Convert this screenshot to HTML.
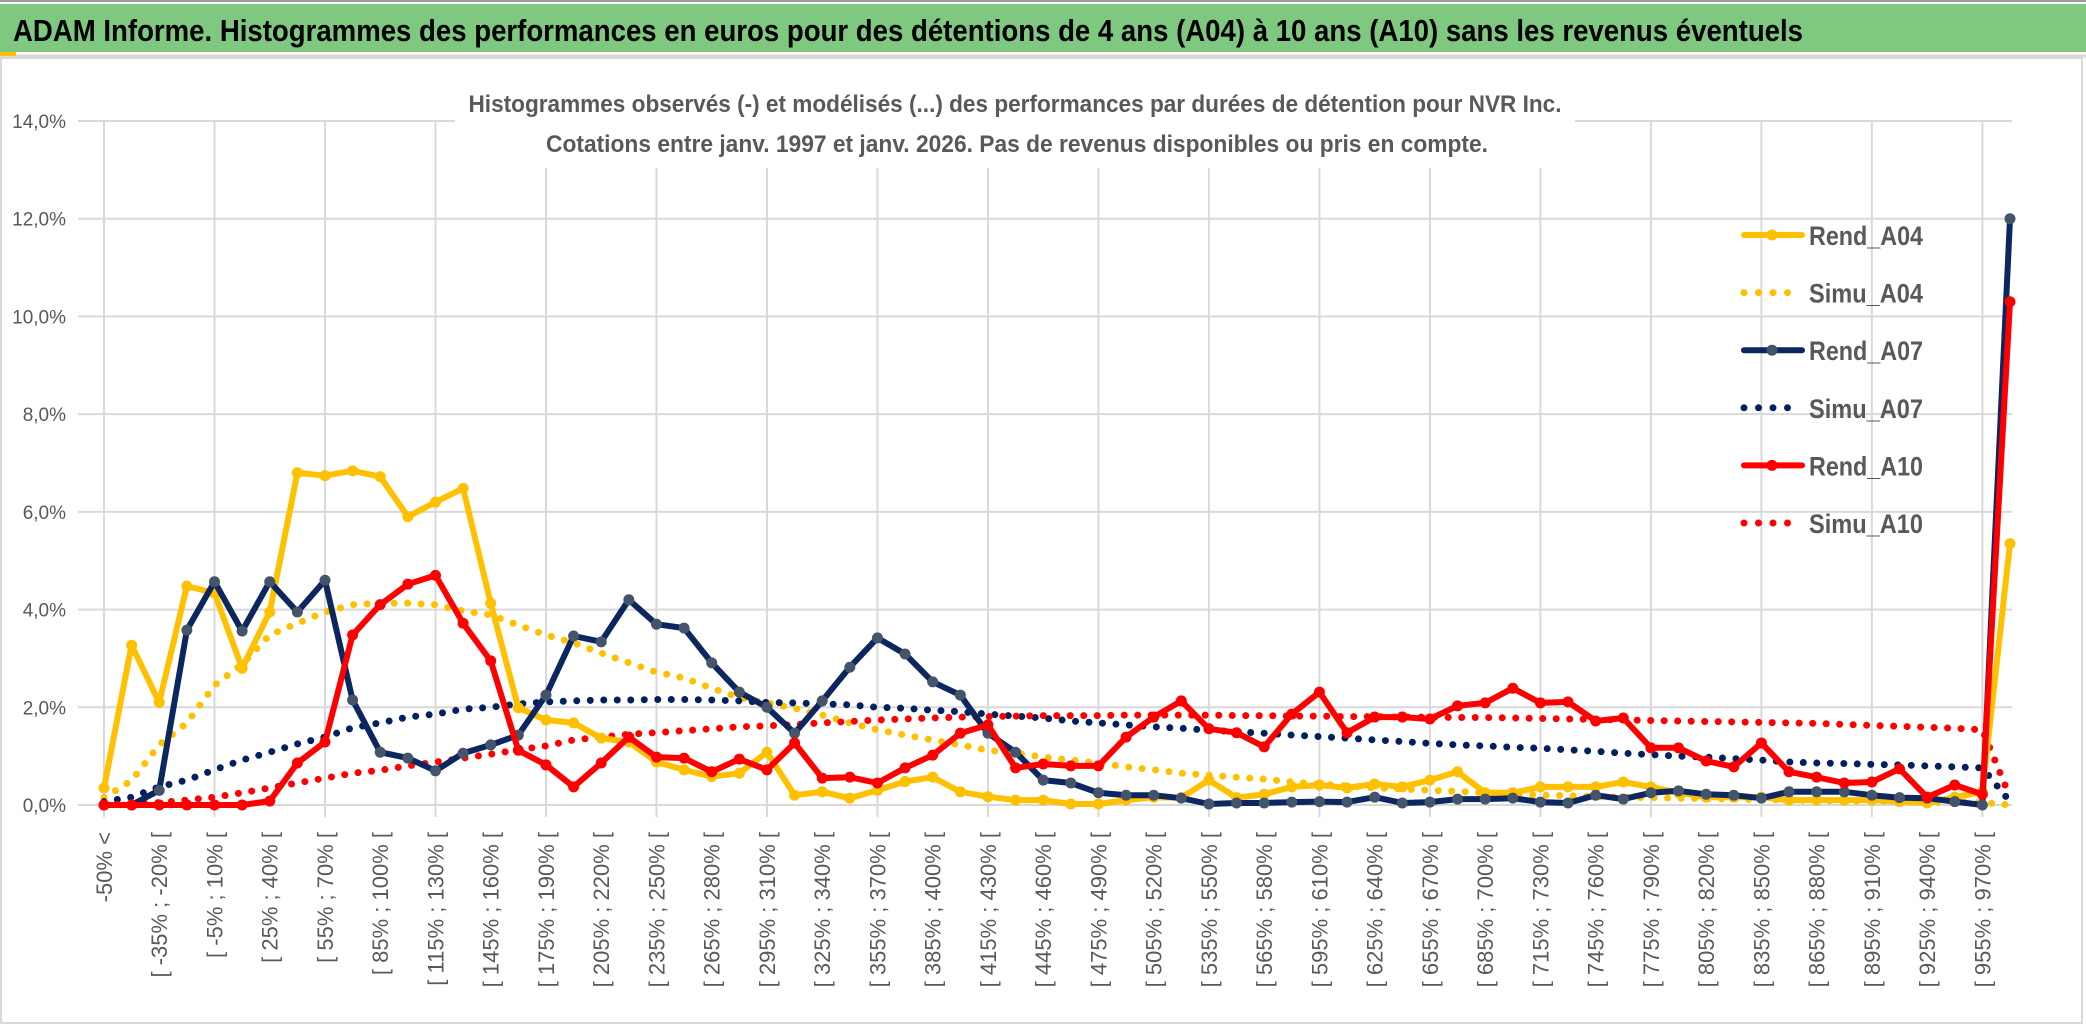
<!DOCTYPE html>
<html><head><meta charset="utf-8">
<style>
html,body{margin:0;padding:0;background:#fff;}
svg{display:block;font-family:"Liberation Sans",sans-serif;}
</style></head>
<body>
<svg id="chart" width="2086" height="1033" viewBox="0 0 2086 1033" xmlns="http://www.w3.org/2000/svg">
  <rect x="0" y="0" width="2086" height="1033" fill="#ffffff"/>
  <rect x="0" y="4" width="2086" height="48" fill="#7ec97f"/>
  <line x1="0" y1="1" x2="2086" y2="1" stroke="#9a9a9a" stroke-width="2"/>
  <line x1="0" y1="56" x2="2086" y2="56" stroke="#d9d9d9" stroke-width="3"/>
  <rect x="0" y="52" width="16" height="4" fill="#ffc000"/>
  <text x="13" y="41" font-size="31" font-weight="bold" fill="#000" textLength="1790" lengthAdjust="spacingAndGlyphs">ADAM Informe. Histogrammes des performances en euros pour des détentions de 4 ans (A04) à 10 ans (A10) sans les revenus éventuels</text>
  <rect x="1" y="58" width="2081" height="965" fill="none" stroke="#d9d9d9" stroke-width="2"/>
  <g id="grid"></g>
  <rect x="455" y="80" width="1120" height="88" fill="#ffffff"/>
  <text x="1015" y="112" font-size="24" font-weight="bold" fill="#595959" text-anchor="middle" textLength="1093" lengthAdjust="spacingAndGlyphs">Histogrammes observés (-) et modélisés (...) des performances par durées de détention pour NVR Inc.</text>
  <text x="1017" y="152" font-size="24" font-weight="bold" fill="#595959" text-anchor="middle" textLength="942" lengthAdjust="spacingAndGlyphs">Cotations entre janv. 1997 et janv. 2026. Pas de revenus disponibles ou pris en compte.</text>
  <g id="ylabels"></g>
  <g id="xlabels"></g>
  <g id="series"></g>
  <g id="legend"></g>
</svg>
<script>
const categories = ["-50% <","[ -50% ; -35% [","[ -35% ; -20% [","[ -20% ; -5% [","[ -5% ; 10% [","[ 10% ; 25% [","[ 25% ; 40% [","[ 40% ; 55% [","[ 55% ; 70% [","[ 70% ; 85% [",
"[ 85% ; 100% [","[ 100% ; 115% [","[ 115% ; 130% [","[ 130% ; 145% [","[ 145% ; 160% [","[ 160% ; 175% [","[ 175% ; 190% [","[ 190% ; 205% [","[ 205% ; 220% [","[ 220% ; 235% [",
"[ 235% ; 250% [","[ 250% ; 265% [","[ 265% ; 280% [","[ 280% ; 295% [","[ 295% ; 310% [","[ 310% ; 325% [","[ 325% ; 340% [","[ 340% ; 355% [","[ 355% ; 370% [","[ 370% ; 385% [",
"[ 385% ; 400% [","[ 400% ; 415% [","[ 415% ; 430% [","[ 430% ; 445% [","[ 445% ; 460% [","[ 460% ; 475% [","[ 475% ; 490% [","[ 490% ; 505% [","[ 505% ; 520% [","[ 520% ; 535% [",
"[ 535% ; 550% [","[ 550% ; 565% [","[ 565% ; 580% [","[ 580% ; 595% [","[ 595% ; 610% [","[ 610% ; 625% [","[ 625% ; 640% [","[ 640% ; 655% [","[ 655% ; 670% [","[ 670% ; 685% [",
"[ 685% ; 700% [","[ 700% ; 715% [","[ 715% ; 730% [","[ 730% ; 745% [","[ 745% ; 760% [","[ 760% ; 775% [","[ 775% ; 790% [","[ 790% ; 805% [","[ 805% ; 820% [","[ 820% ; 835% [",
"[ 835% ; 850% [","[ 850% ; 865% [","[ 865% ; 880% [","[ 880% ; 895% [","[ 895% ; 910% [","[ 910% ; 925% [","[ 925% ; 940% [","[ 940% ; 955% [","[ 955% ; 970% [","970% >="];
const yTicks = [0,2,4,6,8,10,12,14];
const yTickLabels = ["0,0%","2,0%","4,0%","6,0%","8,0%","10,0%","12,0%","14,0%"];
const rendA04 = [0.35,3.27,2.1,4.48,4.34,2.8,3.95,6.8,6.74,6.84,6.72,5.9,6.2,6.48,4.13,1.99,1.74,1.68,1.37,1.29,0.88,0.72,0.58,0.65,1.08,0.2,0.27,0.14,0.3,0.48,0.57,0.27,0.17,0.1,0.1,0.02,0.02,0.1,0.16,0.15,0.51,0.15,0.22,0.37,0.41,0.35,0.43,0.37,0.51,0.68,0.25,0.25,0.37,0.37,0.37,0.47,0.37,0.25,0.16,0.16,0.16,0.1,0.1,0.1,0.1,0.07,0.04,0.16,0.27,5.35];
const simuA04 = [0.15,0.5,1.23,1.68,2.45,2.88,3.48,3.72,3.95,4.1,4.13,4.13,4.1,3.97,3.89,3.68,3.48,3.32,3.11,2.91,2.72,2.6,2.39,2.2,2.09,1.98,1.84,1.68,1.54,1.43,1.33,1.23,1.12,1.06,0.98,0.92,0.86,0.78,0.72,0.65,0.61,0.57,0.53,0.47,0.43,0.39,0.35,0.33,0.3,0.28,0.25,0.22,0.2,0.19,0.17,0.16,0.15,0.14,0.13,0.12,0.11,0.1,0.09,0.08,0.08,0.07,0.06,0.06,0.05,0.0];
const rendA07 = [0,0,0.3,3.58,4.57,3.56,4.57,3.95,4.6,2.15,1.08,0.96,0.7,1.06,1.23,1.43,2.25,3.46,3.34,4.2,3.7,3.62,2.91,2.31,2.0,1.47,2.13,2.82,3.42,3.09,2.52,2.25,1.47,1.08,0.51,0.45,0.25,0.2,0.2,0.14,0.02,0.04,0.04,0.06,0.07,0.06,0.16,0.04,0.06,0.12,0.12,0.14,0.06,0.04,0.2,0.12,0.25,0.29,0.22,0.2,0.14,0.27,0.27,0.27,0.2,0.15,0.14,0.07,0.0,12.0];
const simuA07 = [0.07,0.16,0.37,0.51,0.72,0.92,1.08,1.25,1.39,1.58,1.68,1.8,1.86,1.96,2.0,2.07,2.11,2.13,2.15,2.15,2.16,2.16,2.15,2.13,2.1,2.09,2.07,2.05,2.0,1.98,1.94,1.91,1.86,1.82,1.78,1.72,1.68,1.64,1.6,1.57,1.53,1.5,1.47,1.43,1.4,1.37,1.33,1.3,1.26,1.23,1.21,1.18,1.16,1.13,1.1,1.06,1.03,1.0,0.98,0.95,0.92,0.88,0.86,0.85,0.83,0.82,0.8,0.78,0.76,0.07];
const rendA10 = [0,0,0,0,0,0,0.08,0.86,1.29,3.48,4.1,4.52,4.7,3.72,2.95,1.12,0.82,0.37,0.86,1.39,0.98,0.96,0.68,0.94,0.72,1.27,0.55,0.57,0.45,0.76,1.02,1.47,1.64,0.76,0.84,0.8,0.8,1.39,1.8,2.13,1.56,1.48,1.19,1.86,2.31,1.48,1.8,1.8,1.76,2.03,2.09,2.39,2.09,2.11,1.72,1.78,1.17,1.17,0.9,0.78,1.27,0.68,0.57,0.45,0.47,0.74,0.16,0.41,0.22,10.3];
const simuA10 = [0,0.02,0.05,0.1,0.16,0.25,0.35,0.45,0.55,0.65,0.71,0.8,0.88,0.96,1.04,1.13,1.21,1.33,1.39,1.45,1.48,1.52,1.56,1.6,1.62,1.65,1.68,1.71,1.74,1.76,1.78,1.8,1.81,1.82,1.83,1.83,1.83,1.84,1.84,1.84,1.84,1.83,1.83,1.82,1.82,1.81,1.81,1.8,1.8,1.79,1.79,1.78,1.77,1.76,1.75,1.74,1.73,1.72,1.71,1.70,1.69,1.68,1.67,1.65,1.63,1.61,1.59,1.57,1.54,0.16];
const seriesNames = ["Rend_A04","Simu_A04","Rend_A07","Simu_A07","Rend_A10","Simu_A10"];

const NS = "http://www.w3.org/2000/svg";
const X0 = 104, X1 = 2010, Y0 = 805, YTOP = 121, YMAX = 14;
function xPos(i){ return X0 + (X1 - X0) * i / (categories.length - 1); }
function yPos(v){ return Y0 - (Y0 - YTOP) * v / YMAX; }
function mk(tag, attrs, parent){ const e = document.createElementNS(NS, tag); for (const k in attrs) e.setAttribute(k, attrs[k]); parent.appendChild(e); return e; }

const grid = document.getElementById('grid');
yTicks.forEach((t, k) => {
  const l = mk('line', {x1: 78, x2: 2012, y1: yPos(t), y2: yPos(t), stroke: '#d9d9d9', 'stroke-width': 2}, grid);
  
  
  const tx = mk('text', {x: 66, y: yPos(t) + 7, 'font-size': 19, fill: '#595959', 'text-anchor': 'end'}, document.getElementById('ylabels'));
  tx.textContent = yTickLabels[k];
  
  
});
for (let i = 0; i < categories.length; i += 4) {
  const l = mk('line', {x1: xPos(i), x2: xPos(i), y1: YTOP, y2: Y0 + 12, stroke: '#d9d9d9', 'stroke-width': 2}, grid);
  
  
}
const xl = document.getElementById('xlabels');
for (let i = 0; i < categories.length - 1; i += 2) {
  const x = xPos(i) + 8, y = 832;
  const t = mk('text', {x: x, y: y, 'font-size': 22, fill: '#595959', 'text-anchor': 'end', transform: 'rotate(-90 ' + x + ' ' + y + ')'}, xl);
  t.textContent = categories[i];
  
  
}

const sg = document.getElementById('series');
function pts(arr){ return arr.map((v, i) => xPos(i).toFixed(1) + ',' + yPos(v).toFixed(1)).join(' '); }
function dotted(arr, color, name){
  const p = mk('polyline', {points: pts(arr), fill: 'none', stroke: color, 'stroke-width': 7, 'stroke-linecap': 'round', 'stroke-dasharray': '0 13.5'}, sg);
  
  
}
function solid(arr, color, mColor, name){
  const g = mk('g', {}, sg);
  
  
  mk('polyline', {points: pts(arr), fill: 'none', stroke: color, 'stroke-width': 6, 'stroke-linejoin': 'round'}, g);
  arr.forEach((v, i) => {
    const c = mk('circle', {cx: xPos(i), cy: yPos(v), r: 5.5, fill: mColor}, g);
    
    
  });
}
dotted(simuA04, '#ffc000', 'simu-a04-line');
dotted(simuA07, '#002060', 'simu-a07-line');
dotted(simuA10, '#ff0000', 'simu-a10-line');
solid(rendA04, '#ffc000', '#ffc000', 'rend-a04-line');
solid(rendA07, '#0c2660', '#44546a', 'rend-a07-line');
solid(rendA10, '#ff0000', '#ff0000', 'rend-a10-line');

const lg = document.getElementById('legend');
const legColors = ['#ffc000','#ffc000','#0c2660','#002060','#ff0000','#ff0000'];
const legMarker = ['#ffc000',null,'#44546a',null,'#ff0000',null];
seriesNames.forEach((n, k) => {
  const y = 235 + k * 57.6;
  const g = mk('g', {}, lg);
  
  
  if (legMarker[k]) {
    mk('line', {x1: 1744, x2: 1802, y1: y, y2: y, stroke: legColors[k], 'stroke-width': 6, 'stroke-linecap': 'round'}, g);
    mk('circle', {cx: 1772, cy: y, r: 5.5, fill: legMarker[k]}, g);
  } else {
    mk('line', {x1: 1744, x2: 1800, y1: y, y2: y, stroke: legColors[k], 'stroke-width': 7, 'stroke-linecap': 'round', 'stroke-dasharray': '0 14.5'}, g);
  }
  const t = mk('text', {x: 1809, y: y + 10, 'font-size': 27, 'font-weight': 'bold', fill: '#595959', textLength: 114, lengthAdjust: 'spacingAndGlyphs'}, g);
  t.textContent = n;
});
</script>
</body></html>
